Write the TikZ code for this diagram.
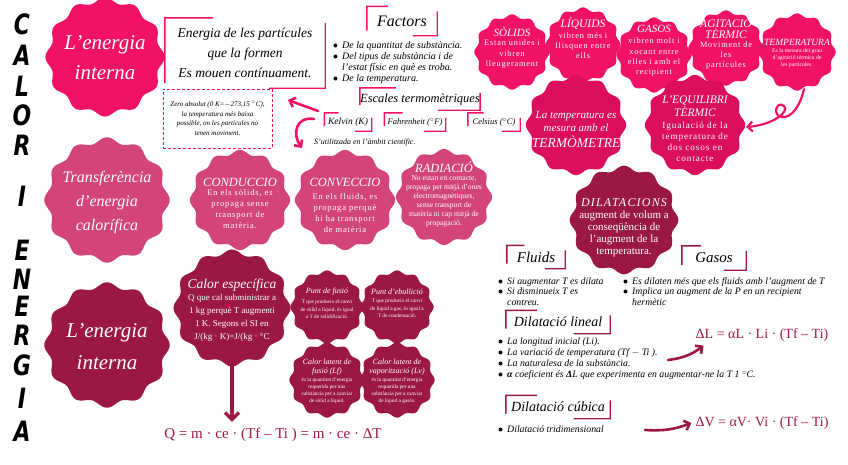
\documentclass[tikz,border=0pt]{standalone}
\usepackage{fontspec}
\usetikzlibrary{arrows.meta,calc,positioning}
\setmainfont{Liberation Serif}
\newfontfamily\titlefont{DejaVu Sans}
\newfontfamily\spacedfont[LetterSpace=10]{Liberation Serif}
\newfontfamily\plainserif{Liberation Serif}

\definecolor{hotpink}{RGB}{241,17,101}
\definecolor{deeppink}{RGB}{218,14,92}
\definecolor{rosepink}{RGB}{210,68,122}
\definecolor{wine}{RGB}{155,24,70}

% wavy blob: centre x, centre y, radius, colour
\newcommand{\wavy}[4]{%
  \fill[#4] plot[domain=0:360, samples=241] ({#1+#3*(1+0.045*cos(12*\x))*cos(\x)}, {#2+#3*(1+0.045*cos(12*\x))*sin(\x)}) -- cycle;}
% corner brackets round a node: name, colour
\newcommand{\corners}[2]{%
  \draw[#2, line width=1.4pt] ([yshift=5pt]#1.south west) -- (#1.north west) -- ($(#1.north west)!0.3!(#1.north east)$);
  \draw[#2, line width=1.4pt] ([yshift=-5pt]#1.north east) -- (#1.south east) -- ($(#1.south east)!0.35!(#1.south west)$);}
\newcommand{\bul}{\makebox[9pt][l]{$\bullet$}}

\begin{document}
\begin{tikzpicture}[x=1pt, y=-1pt,
    bt/.style={text=white, align=center, inner sep=0pt},
    hd/.style={bt, font=\itshape\fontsize{#1}{#1}\selectfont},
    bd/.style 2 args={bt, font=\spacedfont\fontsize{#1}{#2}\selectfont},
    sm/.style 2 args={bt, font=\plainserif\fontsize{#1}{#2}\selectfont},
    lst/.style={align=left, inner sep=0pt, anchor=north west, font=\itshape\fontsize{9.8}{10.6}\selectfont},
    lbl/.style={inner sep=0pt, font=\itshape\fontsize{#1}{#1}\selectfont},
    frm/.style={inner sep=0pt, text=wine, font=\plainserif\fontsize{14}{14}\selectfont},
    arr/.style={line width=2.6pt, line cap=round, -{Straight Barb[length=5pt, width=10pt]}},
    ttl/.style={inner sep=0pt, font=\titlefont\bfseries\itshape\fontsize{28}{28}\selectfont}]
  \useasboundingbox (0,0) rectangle (848,464);

  % Titol vertical
  \foreach \l/\yy in {C/24,A/55,L/86,O/115,R/145,I/196,E/250,N/279,E/306,R/335,G/365,I/398,A/431}
    \node[ttl] (ttl\yy) at (22,\yy) {\scalebox{0.78}[1]{\l}};

  % Energia interna (a dalt)
  \wavy{105}{57}{57}{hotpink}
  \node[bt, font=\itshape\fontsize{21}{30}\selectfont] (eint) at (105,58) {L’energia\\interna};

  \node[minimum width=160, minimum height=70, align=center, font=\itshape\fontsize{13.5}{20}\selectfont] (epart) at (245,53)
    {Energia de les partícules\\que la formen\\Es mouen contínuament.};
  \corners{epart}{hotpink}

  \node[draw=hotpink, line width=1pt, dash pattern=on 3pt off 2pt, minimum width=109, minimum height=59,
        align=center, font=\itshape\fontsize{7}{9.5}\selectfont] (zero) at (217.5,118.5)
    {Zero absolut (0 K=$-$273,15 $^{\circ}$C),\\la temperatura més baixa\\possible, on les partícules no\\tenen moviment.};

  % Factors
  \node[minimum width=70, minimum height=29, lbl=16] (factors) at (402,21) {Factors};
  \corners{factors}{hotpink}
  \node[lst, font=\itshape\fontsize{10}{11}\selectfont] (factlist) at (333,41)
    {\bul De la quantitat de substància.\\\bul Del tipus de substància i de\\\hspace*{9pt}l’estat físic en què es troba.\\\bul De la temperatura.};

  % Escales
  \node[minimum width=116, minimum height=22, lbl=12.5] (escales) at (420,99) {Escales termomètriques};
  \corners{escales}{hotpink}
  \node[minimum width=47, minimum height=18, lbl=9.5] (kelvin) at (348,122) {Kelvin (K)};
  \corners{kelvin}{hotpink}
  \node[minimum width=61, minimum height=18, lbl=8.5] (fahr) at (415,122) {Fahrenheit ($^{\circ}$F)};
  \corners{fahr}{hotpink}
  \node[minimum width=52, minimum height=18, lbl=8.5] (cels) at (494,122) {Celsius ($^{\circ}$C)};
  \corners{cels}{hotpink}
  \node[lbl=8, anchor=west] (cient) at (314,143) {S’utilitzada en l’àmbit científic.};

  \coordinate (a1s) at (318,111);
  \coordinate (a1e) at (288,100);
  \draw[arr, hotpink] (a1s) -- (a1e);
  \coordinate (c1s) at (314,119);
  \coordinate (c1e) at (302,148);
  \draw[arr, hotpink] (c1s) .. controls (296,116) and (292,134) .. (c1e);

  % Estats (fila de dalt)
  \wavy{512}{52}{36}{hotpink}
  \node[hd=11] (solh) at (512,32) {SÒLIDS};
  \node[bd={8.3}{10.3}, below=3pt of solh] (solb) {Estan unides i\\vibren\\lleugerament};
  \wavy{583}{45}{36}{hotpink}
  \node[hd=11.5] (liqh) at (583,23) {LÍQUIDS};
  \node[bd={8.3}{10.3}, below=3pt of liqh] (liqb) {vibren més i\\llisquen entre\\ells};
  \wavy{654}{55}{36}{hotpink}
  \node[hd=11] (gash) at (654,29) {GASOS};
  \node[bd={8.3}{10.3}, below=5pt of gash] (gasb) {vibren molt i\\xocant entre\\elles i amb el\\recipient};
  \wavy{726}{48}{36}{hotpink}
  \node[bt, font=\itshape\fontsize{11.5}{10.5}\selectfont] (agih) at (726,29) {AGITACIO\\TÈRMIC};
  \node[bd={8.3}{10.3}, below=3pt of agih] (agib) {Moviment de\\les\\partícules};
  \wavy{797}{52}{37}{hotpink}
  \node[hd=9.5] (temph) at (797,42) {TEMPERATURA};
  \node[sm={5.8}{7}, below=3pt of temph] (tempb) {Es la mesura del grau\\d’agitació tèrmica de\\les partícules.};

  % Termometre i equilibri
  \wavy{576}{125}{48}{deeppink}
  \node[bt, font=\itshape\fontsize{11}{13}\selectfont] (termh) at (576,121) {La temperatura es\\mesura amb el};
  \node[hd=13.5, below=4pt of termh] (termb) {TERMÒMETRE};
  \wavy{695}{125}{48}{deeppink}
  \node[bt, font=\itshape\fontsize{11.5}{11}\selectfont] (eqh) at (695,106) {L’EQUILIBRI\\TÈRMIC};
  \node[bd={9.2}{11.3}, below=5pt of eqh] (eqb) {Igualació de la\\temperatura de\\dos cosos en\\contacte};
  \coordinate (tmpbot) at (804,89);
  \coordinate (eqin) at (746,127);
  \draw[line width=2.2pt, hotpink, line cap=round, -{Straight Barb[length=5pt, width=10pt]}]
    (tmpbot) .. controls (800,106) and (792,118) .. (782,117)
    .. controls (772,116) and (776,100) .. (784,106)
    .. controls (790,112) and (772,125) .. (eqin);

  % Transferencia d'energia
  \wavy{107}{200}{60}{rosepink}
  \node[bt, font=\itshape\fontsize{16}{24}\selectfont] (trans) at (107,203) {Transferència\\d’energia\\calorífica};
  \wavy{240}{200}{48}{rosepink}
  \node[hd=12.5] (condh) at (240,182) {CONDUCCIO};
  \node[bd={8.5}{11}, below=3pt of condh] (condb) {En els sòlids, es\\propaga sense\\transport de\\matèria.};
  \wavy{345}{200}{48}{rosepink}
  \node[hd=12.5] (convh) at (345,182) {CONVECCIO};
  \node[bd={8.5}{11}, below=7pt of convh] (convb) {En els fluids, es\\propaga perquè\\hi ha transport\\de matèria};
  \wavy{444}{197}{46}{rosepink}
  \node[hd=12.5] (radh) at (444,167) {RADIACIÓ};
  \node[sm={7.6}{9}, below=3pt of radh] (radb) {No estan en contacte,\\propaga per mitjà d’ones\\electromagnètiques,\\sense transport de\\matèria ni cap mitjà de\\propagació.};

  % Dilatacions
  \wavy{624}{220}{52}{wine}
  \node[bt, font=\spacedfont\itshape\fontsize{12}{12}\selectfont] (dilh) at (624,203) {DILATACIONS};
  \node[sm={11}{12}, below=3pt of dilh] (dilb) {augment de volum a\\conseqüència de\\l’augment de la\\temperatura.};

  \node[minimum width=58, minimum height=23, lbl=15] (fluids) at (536,257) {Fluids};
  \corners{fluids}{wine}
  \node[minimum width=64, minimum height=24, lbl=15] (gasos) at (714,258) {Gasos};
  \corners{gasos}{wine}
  \node[lst] (fluidlist) at (498,277) {\bul Si augmentar T es dilata\\\bul Si disminueix T es\\\hspace*{9pt}contreu.};
  \node[lst] (gaslist) at (623,277) {\bul Es dilaten més que els fluids amb l’augment de T\\\bul Implica un augment de la P en un recipient\\\hspace*{9pt}hermètic};

  % Dilatacio lineal
  \node[minimum width=104, minimum height=23, lbl=14] (dlin) at (558,322) {Dilatació lineal};
  \corners{dlin}{wine}
  \node[lst, font=\itshape\fontsize{9.8}{11.3}\selectfont] (linlist) at (498,337)
    {\bul La longitud inicial (Li).\\\bul La variació de temperatura (Tf $-$ Ti ).\\\bul La naturalesa de la substància.\\\bul {\bfseries α} coeficient és {\bfseries Δ}L que experimenta en augmentar-ne la T 1 $^{\circ}$C.};
  \node[frm] (dl) at (762,335) {ΔL = αL · Li · (Tf – Ti)};
  \coordinate (la) at (668,360);
  \draw[arr, wine] (la) to[bend right=15] ([xshift=8pt, yshift=-4pt]dl.south west);

  % Dilatacio cubica
  \node[minimum width=104, minimum height=23, lbl=14] (dcub) at (558,407) {Dilatació cúbica};
  \corners{dcub}{wine}
  \node[lst] (cublist) at (498,425) {\bul Dilatació tridimensional};
  \node[frm] (dv) at (762,423) {ΔV = αV· Vi · (Tf – Ti)};
  \coordinate (va) at (645,430);
  \draw[arr, wine] (va) to[bend right=12] ([xshift=-4pt]dv.west);

  % Energia interna (a baix)
  \wavy{107}{345}{60}{wine}
  \node[bt, font=\itshape\fontsize{21}{32}\selectfont] (eint2) at (107,347) {L’energia\\interna};
  \wavy{232}{308}{56}{wine}
  \node[hd=13.5] (calh) at (232,285) {Calor específica};
  \node[sm={9}{13}, below=3pt of calh] (calb) {Q que cal subministrar a\\1 kg perquè T augmenti\\1 K. Segons el SI en\\J/(kg · K)=J/(kg · °C};
  \wavy{327}{307}{35}{wine}
  \node[hd=8] (fush) at (327,292) {Punt de fusió};
  \node[sm={5.3}{7.5}, below=4pt of fush] (fusb) {T que produeix el canvi\\de sòlid a líquid, és igual\\a T de solidificació.};
  \wavy{397}{307}{35}{wine}
  \node[hd=8] (ebuh) at (397,292) {Punt d’ebullició};
  \node[sm={5.3}{7.5}, below=4pt of ebuh] (ebub) {T que produeix el canvi\\de líquid a gas, és igual a\\T de condensació.};
  \wavy{327}{380}{36}{wine}
  \node[bt, font=\itshape\fontsize{8}{9}\selectfont] (lfh) at (327,367) {Calor latent de\\fusió (Lf)};
  \node[sm={5.3}{7.2}, below=2pt of lfh] (lfb) {és la quantitat d’energia\\requerida per una\\substància per a canviar\\de sòlid a líquid.};
  \wavy{397}{380}{36}{wine}
  \node[bt, font=\itshape\fontsize{8}{9}\selectfont] (lvh) at (397,367) {Calor latent de\\vaporització (Lv)};
  \node[sm={5.3}{7.2}, below=2pt of lvh] (lvb) {és la quantitat d’energia\\requerida per una\\substància per a canviar\\de líquid a gasós.};

  \node[frm, font=\plainserif\fontsize{15}{15}\selectfont] (formq) at (273,435) {Q = m · ce · (Tf – Ti ) = m · ce · ΔT};
  \coordinate (cdown) at (232,366);
  \draw[wine, line width=3.4pt, line cap=round, -{Straight Barb[length=7pt, width=14pt]}] (cdown) -- ([yshift=6pt]cdown |- formq.north);
\end{tikzpicture}
\end{document}
